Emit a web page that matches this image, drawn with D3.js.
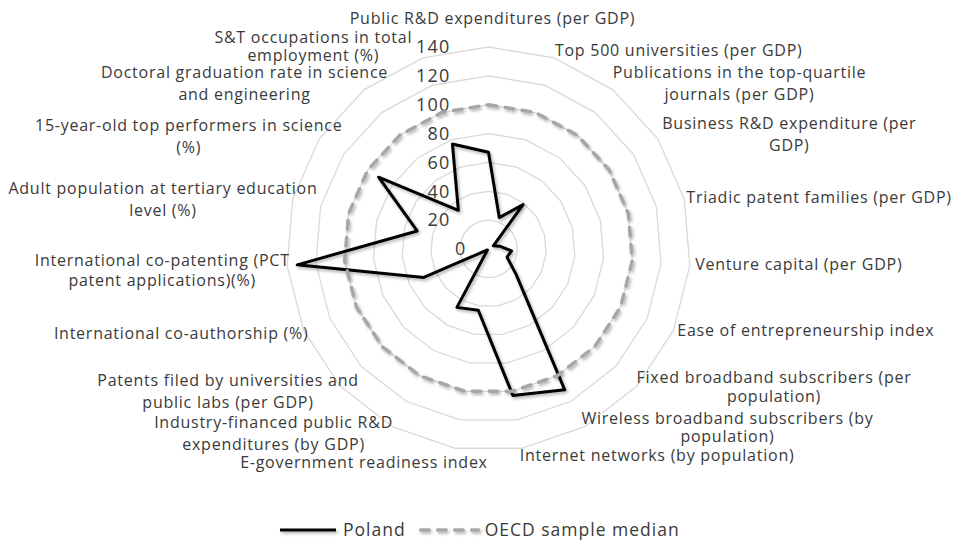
<!DOCTYPE html>
<html>
<head>
<meta charset="utf-8">
<script src="https://cdn.jsdelivr.net/npm/d3@7"></script>
<style>
  html, body { margin: 0; padding: 0; background: #fff; }
  svg { display: block; font-family: "Open Sans", sans-serif; }
</style>
</head>
<body>
<svg id="chart" width="958" height="545"></svg>
<script>
// Axis labels, clockwise from the top (line breaks as in the picture)
const categories = [
    "Public R&D expenditures (per GDP)",
    "Top 500 universities (per GDP)",
    "Publications in the top-quartile\njournals (per GDP)",
    "Business R&D expenditure (per\nGDP)",
    "Triadic patent families (per GDP)",
    "Venture capital (per GDP)",
    "Ease of entrepreneurship index",
    "Fixed broadband subscribers (per\npopulation)",
    "Wireless broadband subscribers (by\npopulation)",
    "Internet networks (by population)",
    "E-government readiness index",
    "Industry-financed public R&D\nexpenditures (by GDP)",
    "Patents filed by universities and\npublic labs (per GDP)",
    "International co-authorship (%)",
    "International co-patenting (PCT\npatent applications)(%)",
    "Adult population at tertiary education\nlevel (%)",
    "15-year-old top performers in science\n(%)",
    "Doctoral graduation rate in science\nand engineering",
    "S&T occupations in total\nemployment (%)"
];

const poland = [67, 23, 39, 4, 8, 16, 14, 26, 111, 103, 43, 46, 1, 49, 133, 51, 91, 34, 77];
const oecdMedian = [100, 100, 100, 100, 100, 100, 100, 100, 100, 100, 100, 100, 100, 100, 100, 100, 100, 100, 100];
const tickValues = [0, 20, 40, 60, 80, 100, 120, 140];
const seriesNames = ["Poland", "OECD sample median"];

const svg = d3.select('#chart');
const cx = 488.5, cy = 249, R = 202;
const textColor = '#3a3a3a';

const r = d3.scaleLinear().domain([0, 140]).range([0, R]);
const angle = d3.scaleLinear().domain([0, categories.length]).range([0, 2 * Math.PI]);

// soft drop shadow like the office chart
const defs = svg.append('defs');
defs.append('filter')
    .attr('id', 'shadow')
    .attr('filterUnits', 'userSpaceOnUse')
    .attr('x', -600).attr('y', -600)
    .attr('width', 1800).attr('height', 1400)
    .append('feDropShadow')
    .attr('dx', 1.5)
    .attr('dy', 2)
    .attr('stdDeviation', 1.4)
    .attr('flood-color', '#000')
    .attr('flood-opacity', 0.3);

const g = svg.append('g').attr('transform', `translate(${cx},${cy})`);

const radial = d3.lineRadial()
    .angle((d, i) => angle(i))
    .radius(d => r(d))
    .curve(d3.curveLinearClosed);

// grid rings
g.append('g')
    .selectAll('path')
    .data(tickValues.filter(t => t > 0))
    .enter()
    .append('path')
    .attr('d', t => radial(categories.map(() => t)))
    .attr('fill', 'none')
    .attr('stroke', '#d9d9d9')
    .attr('stroke-width', 1.3);

// value labels
g.append('g')
    .selectAll('text')
    .data(tickValues)
    .enter()
    .append('text')
    .attr('x', t => t === 0 ? -22 : -38)
    .attr('y', t => -r(t))
    .attr('dy', '0.35em')
    .attr('text-anchor', 'end')
    .attr('fill', textColor)
    .style('font-size', '18px')
    .style('letter-spacing', '1.2px')
    .text(t => t);

// series
const dash = '8.5 8.5';
g.append('path')
    .attr('d', radial(poland))
    .attr('fill', 'none')
    .attr('stroke', '#000')
    .attr('stroke-width', 3)
    .attr('stroke-linejoin', 'round')
    .style('filter', 'url(#shadow)');

g.append('path')
    .attr('d', radial(oecdMedian))
    .attr('fill', 'none')
    .attr('stroke', '#a6a6a6')
    .attr('stroke-width', 3.5)
    .attr('stroke-dasharray', dash)
    .attr('stroke-linecap', 'round')
    .style('filter', 'url(#shadow)');

// category labels
const labelR = R + 8;
// a few labels sit tighter or slightly off in the original layout
const lineGap = { 7: 19, 8: 18, 14: 20, 18: 18 };
const nudge = { 1: [7, 0], 2: [7, 0], 3: [10, 0], 4: [12, 0], 5: [-14, -2], 6: [10, -3],
                7: [16, -4], 8: [24, -6], 9: [19, -1], 10: [25, 6], 12: [9, 0],
                14: [-2, 4], 15: [-7, 2], 16: [-9, 2], 18: [8, -4] };
const labels = g.append('g')
    .attr('fill', textColor)
    .style('font-size', '16px')
    .style('letter-spacing', '0.75px');

categories.forEach((c, i) => {
    const a = angle(i);
    const s = Math.sin(a);
    const ax = s * labelR;
    const ay = -Math.cos(a) * labelR;
    const lines = c.split('\n');
    const lh = lineGap[i] || 22;
    const [nx, ny] = nudge[i] || [0, 0];
    let x = ax + Math.sign(s) * 115 + nx;
    let yc = ay + ny;
    if (Math.abs(s) < 0.05) {
        x = ax + 4;
        yc = ay - 21;
    }
    const t = labels.append('text').attr('text-anchor', 'middle');
    lines.forEach((line, k) => {
        t.append('tspan')
            .attr('x', x)
            .attr('y', yc + (k - (lines.length - 1) / 2) * lh)
            .attr('dy', '0.35em')
            .text(line);
    });
});

// legend
const legendY = 530;
const legend = svg.append('g').attr('transform', `translate(280,${legendY})`);
let lx = 0;
seriesNames.forEach((name, i) => {
    const item = legend.append('g').attr('transform', `translate(${lx},0)`);
    const sw = item.append('line')
        .attr('x1', 0).attr('x2', i === 0 ? 56 : 58)
        .attr('y1', 0).attr('y2', 0)
        .style('filter', 'url(#shadow)');
    if (i === 0) {
        sw.attr('stroke', '#000').attr('stroke-width', 3);
    } else {
        sw.attr('stroke', '#a6a6a6').attr('stroke-width', 3.5)
          .attr('stroke-dasharray', dash).attr('stroke-linecap', 'round');
    }
    const tx = i === 0 ? 63 : 64;
    const txt = item.append('text')
        .attr('x', tx)
        .attr('dy', '0.35em')
        .attr('fill', textColor)
        .style('font-size', '17.5px')
        .style('letter-spacing', '1px')
        .text(name);
    lx += tx + txt.node().getComputedTextLength() + 15;
});
</script>
</body>
</html>
